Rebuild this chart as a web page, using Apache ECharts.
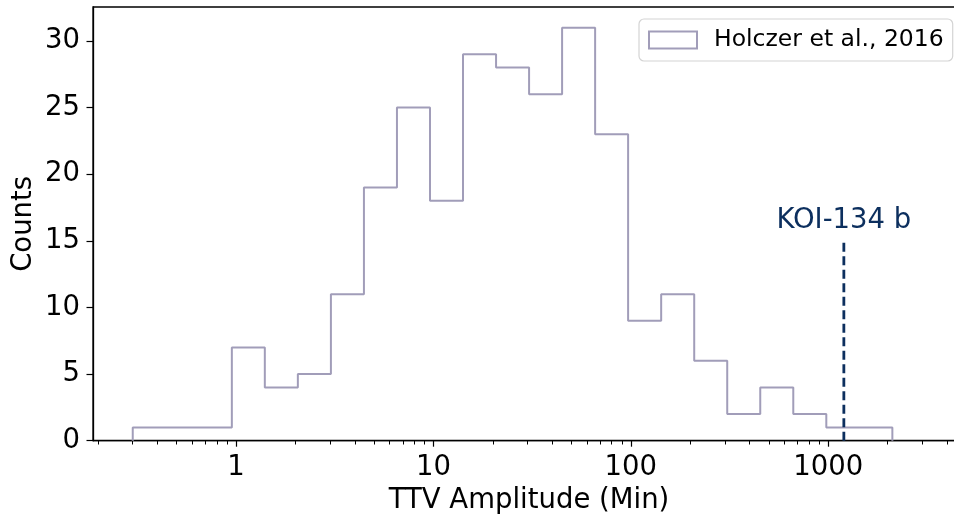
<!DOCTYPE html>
<html>
<head>
<meta charset="utf-8">
<title>TTV amplitude distribution</title>
<script src="https://cdn.jsdelivr.net/npm/echarts@6/dist/echarts.min.js"></script>
<style>
  html, body { margin: 0; padding: 0; background: #ffffff; }
  #chart { width: 954px; height: 516px; }
</style>
</head>
<body>
<div id="chart"></div>
<script>
// Histogram bin edges (minutes, log-spaced) and counts per bin
const binEdges = [0.300, 0.441, 0.648, 0.953, 1.400, 2.058, 3.026, 4.448, 6.538, 9.61,
                  14.13, 20.77, 30.53, 44.87, 65.96, 96.9, 142.5, 209.5, 307.9, 452.6,
                  665.3, 977.9, 1437, 2113];
const binCounts = [1, 1, 1, 7, 4, 5, 11, 19, 25, 18, 29, 28, 26, 31, 23, 9, 11, 6, 2, 4, 2, 1, 1];

// Highlighted planet
const planetName = 'KOI-134 b';
const planetTTV = 1200;
const planetLineTop = 15;
const planetLabelY = 16;

// Axis ticks
const xMajorTicks = [1, 10, 100, 1000];
const xMinorTicks = [0.2, 0.3, 0.4, 0.5, 0.6, 0.7, 0.8, 0.9,
                     2, 3, 4, 5, 6, 7, 8, 9,
                     20, 30, 40, 50, 60, 70, 80, 90,
                     200, 300, 400, 500, 600, 700, 800, 900,
                     2000, 3000, 4000];
const yTicks = [0, 5, 10, 15, 20, 25, 30];

const seriesName = 'Holczer et al., 2016';
const histColor = '#a19db9';
const planetColor = '#0c2f5e';
const font = 'DejaVu Sans';

// Step outline of the histogram (like histtype='step')
const outline = [[binEdges[0], 0]];
for (let i = 0; i < binCounts.length; i++) {
  outline.push([binEdges[i], binCounts[i]]);
  outline.push([binEdges[i + 1], binCounts[i]]);
}
outline.push([binEdges[binEdges.length - 1], 0]);

const X_MIN = 0.1887, X_MAX = 4930;

const chart = echarts.init(document.getElementById('chart'), null, { renderer: 'canvas' });
chart.setOption({
  animation: false,
  backgroundColor: '#ffffff',
  textStyle: { fontFamily: font },
  grid: {
    left: 93, top: 7, width: 872, height: 433.7,
    outerBoundsMode: 'none', containLabel: false,
    show: true, borderColor: '#000000', borderWidth: 1.3, backgroundColor: 'transparent'
  },
  legend: {
    left: 639, top: 19,
    padding: [9, 9, 9, 9],
    backgroundColor: '#ffffff',
    borderColor: '#d4d4d4', borderWidth: 1.2, borderRadius: 5,
    itemWidth: 48, itemHeight: 17,
    textStyle: { fontFamily: font, fontSize: 23.5, color: '#000000', padding: [0, 0, 0, 12] },
    data: [{
      name: seriesName,
      icon: 'rect',
      itemStyle: { color: 'rgba(255,255,255,0)', borderColor: histColor, borderWidth: 2 }
    }]
  },
  xAxis: [{
    type: 'log', logBase: 10, min: X_MIN, max: X_MAX,
    name: 'TTV Amplitude (Min)', nameLocation: 'middle', nameGap: 45,
    nameTextStyle: { fontFamily: font, fontSize: 27.5, color: '#000000' },
    axisLine: { show: true, lineStyle: { color: '#000000', width: 1.3 } },
    axisTick: { show: true, length: 6, customValues: xMajorTicks, lineStyle: { color: '#000000', width: 1.2 } },
    axisLabel: {
      show: true, customValues: xMajorTicks, margin: 13,
      fontFamily: font, fontSize: 27.5, color: '#000000',
      formatter: v => {
        let best = xMajorTicks[0];
        xMajorTicks.forEach(t => { if (Math.abs(Math.log10(t) - Math.log10(v)) < Math.abs(Math.log10(best) - Math.log10(v))) best = t; });
        return String(best);
      }
    },
    splitLine: { show: false }
  }, {
    type: 'log', logBase: 10, min: X_MIN, max: X_MAX, position: 'bottom',
    axisLine: { show: false },
    axisTick: { show: true, length: 3.8, customValues: xMinorTicks, lineStyle: { color: '#000000', width: 1 } },
    axisLabel: { show: false },
    splitLine: { show: false }
  }],
  yAxis: {
    type: 'value', min: 0, max: 32.55,
    name: 'Counts', nameLocation: 'middle', nameGap: 55, nameMoveOverlap: false,
    nameTextStyle: { fontFamily: font, fontSize: 27.5, color: '#000000' },
    axisLine: { show: true, lineStyle: { color: '#000000', width: 1.3 } },
    axisTick: { show: true, length: 6.5, customValues: yTicks, lineStyle: { color: '#000000', width: 1.2 } },
    axisLabel: { show: true, customValues: yTicks, margin: 13, fontFamily: font, fontSize: 27.5, color: '#000000' },
    splitLine: { show: false }
  },
  series: [{
    name: seriesName,
    type: 'line',
    xAxisIndex: 0,
    data: outline,
    symbol: 'none',
    lineStyle: { color: histColor, width: 2 },
    itemStyle: { color: histColor },
    z: 3
  }, {
    name: planetName,
    type: 'line',
    xAxisIndex: 0,
    data: [[planetTTV, 0], [planetTTV, planetLineTop]],
    symbol: 'none',
    lineStyle: { color: planetColor, width: 2.8, type: [9, 4.5] },
    z: 4
  }, {
    name: planetName + ' label',
    type: 'scatter',
    xAxisIndex: 0,
    data: [[planetTTV, planetLabelY]],
    symbolSize: 1,
    itemStyle: { color: 'rgba(0,0,0,0)' },
    label: {
      show: true, position: 'top', distance: 0, offset: [0, 8],
      formatter: planetName, opacity: 1,
      textBorderWidth: 0, textBorderColor: 'transparent',
      fontFamily: font, fontSize: 27.5, color: planetColor
    },
    emphasis: { disabled: true },
    z: 5
  }]
});
</script>
</body>
</html>
